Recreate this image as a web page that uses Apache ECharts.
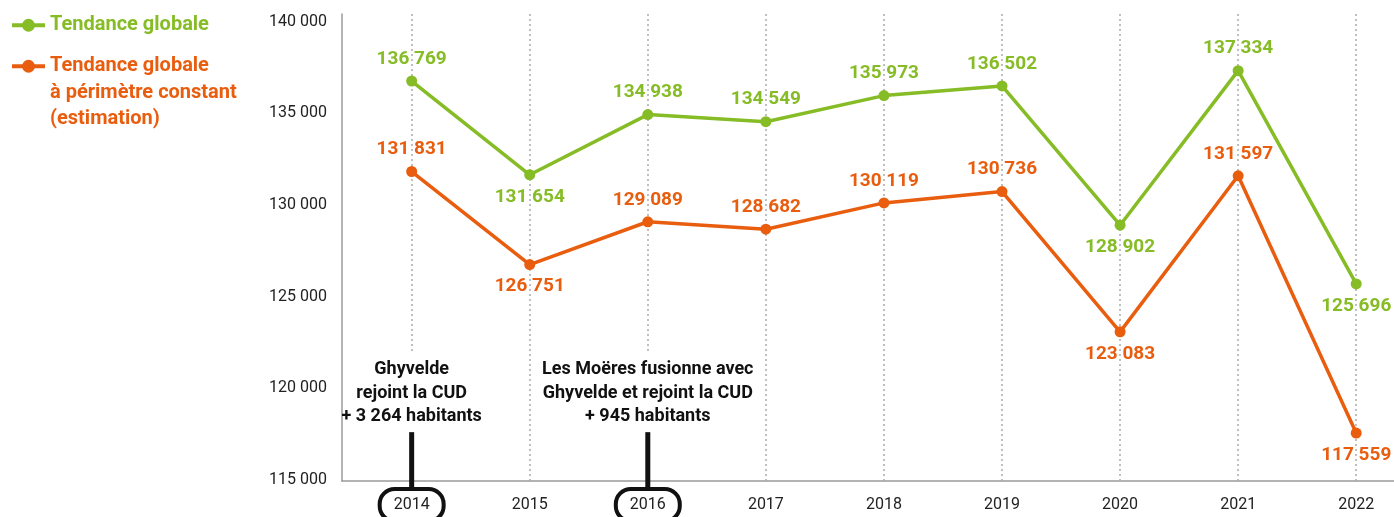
<!DOCTYPE html>
<html>
<head>
<meta charset="utf-8">
<script src="https://cdn.jsdelivr.net/npm/echarts@6/dist/echarts.min.js"></script>
<style>
html,body{margin:0;padding:0;background:#fff}
#main{width:1394px;height:517px}
</style>
</head>
<body>
<div id="main"></div>
<script>
// données
var years = [2014, 2015, 2016, 2017, 2018, 2019, 2020, 2021, 2022];
var globale = [136769, 131654, 134938, 134549, 135973, 136502, 128902, 137334, 125696];
var constant = [131831, 126751, 129089, 128682, 130119, 130736, 123083, 131597, 117559];
var yTicks = [115000, 120000, 125000, 130000, 135000, 140000];
var labelsBelow = [2015, 2020, 2022];
var boxedYears = [2014, 2016];
var notes = [
    {year: 2014, text: 'Ghyvelde\nrejoint la CUD\n+ 3 264 habitants'},
    {year: 2016, text: 'Les Moëres fusionne avec\nGhyvelde et rejoint la CUD\n+ 945 habitants'}
];
var nameA = 'Tendance globale';
var nameB = 'Tendance globale à périmètre constant (estimation)';

var green = '#86bc25', orange = '#e95d0f';
var yMin = 114945, yMax = 140425;
var guideStop = 121930;   // fin des pointillés au-dessus des notes
var noteTop = 121650, connectorTop = 117610;

function fmt(v) {
    return String(v).replace(/\B(?=(\d{3})+(?!\d))/g, ' ');
}

function buildData(values) {
    return years.map(function (y, i) {
        return {
            value: [y, values[i]],
            label: {position: labelsBelow.indexOf(y) >= 0 ? 'bottom' : 'top'}
        };
    });
}

var guides = years.map(function (y) {
    var end = boxedYears.indexOf(y) >= 0 ? guideStop : yMin;
    return [{coord: [y, yMax]}, {coord: [y, end]}];
});

var chart = echarts.init(document.getElementById('main'));

var legendCommon = {
    left: 10,
    padding: 0,
    itemWidth: 33,
    itemHeight: 16,
    selectedMode: false,
    lineStyle: {width: 4}
};

var option = {
    animation: false,
    textStyle: {fontFamily: 'Roboto'},
    legend: [Object.assign({}, legendCommon, {
        data: [nameA],
        top: 12,
        textStyle: {color: green, fontWeight: 'bold', fontSize: 20, lineHeight: 26.5}
    }), Object.assign({}, legendCommon, {
        data: [nameB],
        top: 0,
        formatter: function () {
            return '\n\nTendance globale\nà périmètre constant\n(estimation)';
        },
        textStyle: {color: orange, fontWeight: 'bold', fontSize: 20, lineHeight: 26.5}
    })],
    grid: {left: 342, right: 0, top: 14, bottom: 36, outerBoundsMode: 'none'},
    xAxis: {
        type: 'value',
        min: 2013.41,
        max: 2022.32,
        splitLine: {show: false},
        axisTick: {show: false},
        axisLine: {lineStyle: {color: '#9a9a9a', width: 1.5}},
        axisLabel: {
            customValues: years,
            margin: 8,
            formatter: function (v) {
                return boxedYears.indexOf(v) >= 0 ? '{b|' + v + '}' : '{n|' + v + '}';
            },
            rich: {
                n: {fontSize: 16, color: '#222', padding: [8, 14, 8, 14]},
                b: {fontSize: 16, color: '#222', padding: [8, 14, 8, 14],
                    borderColor: '#111', borderWidth: 4, borderRadius: 15}
            }
        }
    },
    yAxis: {
        type: 'value',
        min: yMin,
        max: yMax,
        splitLine: {show: false},
        axisTick: {show: false},
        axisLine: {show: true, lineStyle: {color: '#9a9a9a', width: 1.5}},
        axisLabel: {
            customValues: yTicks,
            margin: 15,
            fontSize: 16,
            color: '#222',
            formatter: fmt
        }
    },
    series: [{
        name: nameA,
        type: 'line',
        data: buildData(globale),
        symbol: 'circle',
        symbolSize: 11,
        itemStyle: {color: green},
        lineStyle: {color: green, width: 3.5},
        label: {
            show: true,
            distance: 7,
            color: green,
            fontWeight: 'bold',
            fontSize: 19,
            formatter: function (p) { return fmt(p.value[1]); }
        },
        markLine: {
            silent: true,
            z: 1,
            symbol: 'none',
            label: {show: false},
            lineStyle: {color: '#aaa', type: [2, 3], width: 1.5},
            data: guides
        }
    }, {
        name: nameB,
        type: 'line',
        data: buildData(constant),
        symbol: 'circle',
        symbolSize: 11,
        itemStyle: {color: orange},
        lineStyle: {color: orange, width: 3.5},
        label: {
            show: true,
            distance: 7,
            color: orange,
            fontWeight: 'bold',
            fontSize: 19,
            formatter: function (p) { return fmt(p.value[1]); }
        }
    }]
};
chart.setOption(option);

// notes sous la courbe
var g = [];
notes.forEach(function (n) {
    var t = chart.convertToPixel({gridIndex: 0}, [n.year, noteTop]);
    var c = chart.convertToPixel({gridIndex: 0}, [n.year, connectorTop]);
    var base = chart.convertToPixel({gridIndex: 0}, [n.year, yMin]);
    g.push({
        type: 'text', z: 10, x: t[0], y: t[1],
        style: {text: n.text, align: 'center', verticalAlign: 'top',
            fontFamily: 'Roboto', fontWeight: 'bold', fontSize: 18, lineHeight: 23.5, fill: '#111'}
    });
    g.push({
        type: 'line', z: 10,
        shape: {x1: c[0], y1: c[1], x2: c[0], y2: base[1] + 8},
        style: {stroke: '#111', lineWidth: 5}
    });
});
chart.setOption({graphic: g});
</script>
</body>
</html>
